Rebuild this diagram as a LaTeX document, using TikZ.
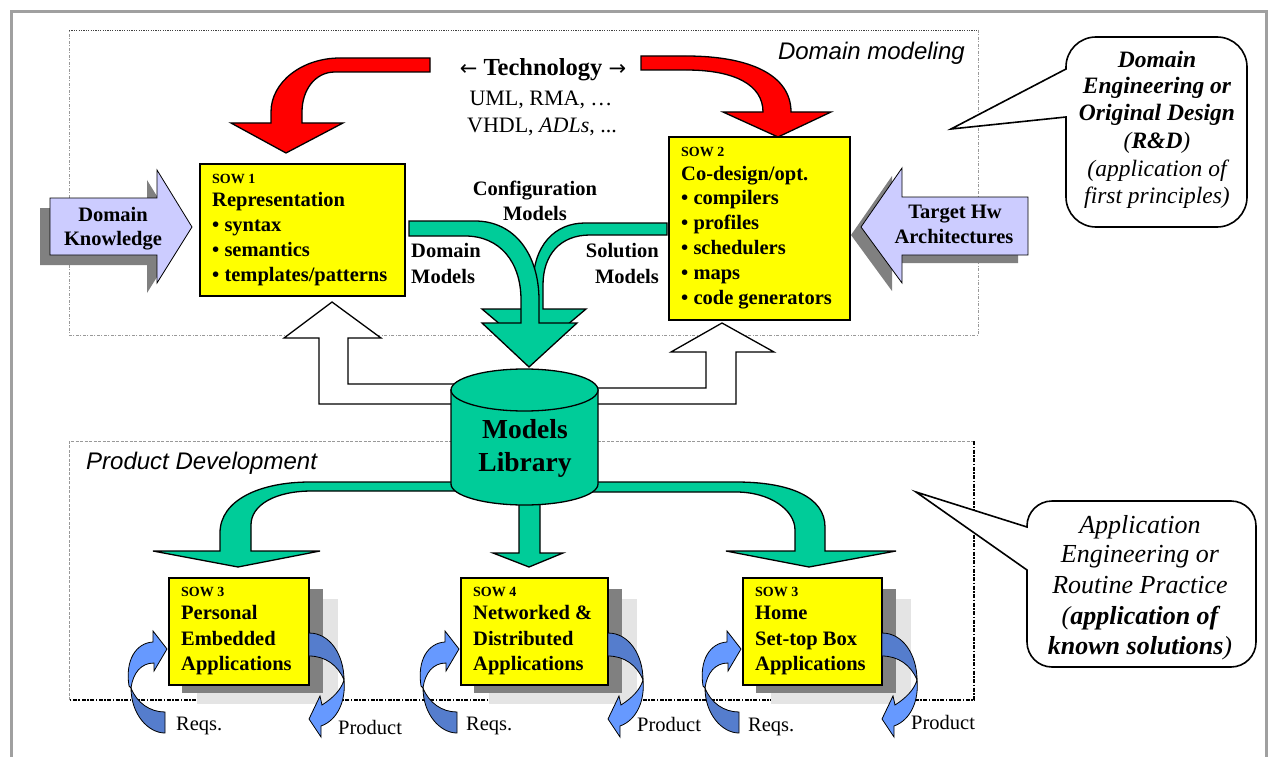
\documentclass[tikz,border=0pt]{standalone}
\usepackage{fontspec}
\setmainfont{Liberation Serif}
\newfontfamily\arialfont{Liberation Sans}
\newfontfamily\arrowfont{DejaVu Sans}
\definecolor{redA}{RGB}{255,0,0}
\definecolor{greenA}{RGB}{0,204,153}
\definecolor{yellowA}{RGB}{255,255,0}
\definecolor{lavA}{RGB}{204,204,255}
\definecolor{blueL}{RGB}{102,153,255}
\definecolor{blueD}{RGB}{85,125,205}
\definecolor{shD}{RGB}{128,128,128}
\definecolor{shL}{RGB}{228,228,228}
\definecolor{frameG}{RGB}{160,160,160}
\newcommand\reqsarrow[1]{%
  \begin{scope}[shift={(#1,0)}]
    \draw[blueline, fill=blueD] (165,712) .. controls (150,712) and (137,703) .. (131,688) .. controls (131,714) and (148,733) .. (165,733) -- cycle;
    \draw[blueline, fill=blueL] (129,686) .. controls (125,660) and (136,643) .. (153,642) -- (153,631) -- (167,649) -- (154,671) -- (154,663) .. controls (141,663) and (133,673) .. (131,688) -- cycle;
  \end{scope}}
\newcommand\prodarrow[1]{%
  \begin{scope}[shift={(#1,0)}]
    \draw[blueline, fill=blueD] (309,633) .. controls (330,633) and (344,655) .. (344,680) .. controls (338,665) and (325,656) .. (309,656) -- cycle;
    \draw[blueline, fill=blueL] (344,680) .. controls (346,700) and (338,720) .. (321,726) -- (321,737) -- (309,719) -- (320,696) -- (322,705) .. controls (333,698) and (341,690) .. (344,680) -- cycle;
  \end{scope}}
\newcommand\appbox[7]{%
  \fill[shL] ({#2+29},599) rectangle ({#3+30},704);
  \fill[shD] ({#2+14},589) rectangle ({#3+15},693);
  \node[ybox, minimum width={#3-#2}, minimum height=107] (#1) at (#2,577) {};
  \node[st, anchor=base west] (#1-s) at ({#2+13},596) {#4};
  \node[bt, anchor=base west] (#1-a) at ({#2+13},619) {#5};
  \node[bt, anchor=base west] (#1-b) at ({#2+13},645) {#6};
  \node[bt, anchor=base west] (#1-c) at ({#2+13},670) {#7};
  \reqsarrow{#2-168}
  \prodarrow{#3-308}}
\begin{document}
\begin{tikzpicture}[x=1pt,y=-1pt,
  outl/.style={draw=black, line width=1.3pt, line join=miter},
  blueline/.style={draw=black, line width=0.8pt},
  ybox/.style={draw=black, fill=yellowA, line width=1.6pt, inner sep=0pt, anchor=north west},
  bt/.style={font=\fontsize{20.5}{24}\selectfont\bfseries, inner sep=0pt},
  st/.style={font=\fontsize{14}{14}\selectfont\bfseries, inner sep=0pt},
  rt/.style={font=\fontsize{20.5}{24}\selectfont, inner sep=0pt},
  ct/.style={font=\fontsize{23.5}{27}\selectfont\itshape, inner sep=0pt, anchor=base},
  cb/.style={font=\fontsize{26}{30}\selectfont\itshape, inner sep=0pt, anchor=base},
  sans/.style={font=\fontsize{24}{28}\selectfont\arialfont\itshape, inner sep=0pt}]
\useasboundingbox (0,0) rectangle (1272,757);
% outer frame
\draw[frameG, line width=3pt] (11,775) -- (11,12) -- (1266,12) -- (1266,775);
% domain modeling box
\draw[black!75, line width=0.8pt, dash pattern=on 1.2pt off 1.2pt] (69,30) -- (978,30);
\draw[gray!80, line width=0.6pt, dash pattern=on 3pt off 1.5pt on 1pt off 1.5pt] (978,30) -- (978,335) -- (69,335) -- (69,30);
\node[sans, anchor=base east] (dmlab) at (965,60) {Domain modeling};
% product development box
\draw[gray!80, line width=0.6pt, dash pattern=on 3pt off 1.5pt] (69,700) -- (69,441) -- (974,441);
\draw[black, line width=1.3pt, dash pattern=on 4pt off 1.5pt on 1.5pt off 1.5pt] (974,441) -- (974,700) -- (69,700);
\node[sans, anchor=base west] (pdlab) at (86,469) {Product Development};
% red technology arrows
\draw[outl, fill=redA] (430,58) -- (340,58) .. controls (302,58) and (271,82) .. (271,112) -- (271,123) -- (231,123) -- (286,153) -- (343,123) -- (302,123) -- (302,112) .. controls (302,90) and (315,72) .. (335,72) -- (430,72) -- cycle;
\draw[outl, fill=redA] (641,56) -- (686,56) .. controls (750,56) and (791,75) .. (791,112) -- (831,112) -- (778,137) -- (723,112) -- (763,112) .. controls (763,85) and (735,70) .. (686,70) -- (641,70) -- cycle;
\node[inner sep=0pt, anchor=base, font=\fontsize{24.5}{28}\selectfont] (tech) at (543,76) {{\arrowfont\fontsize{21}{24}\selectfont ←} \textbf{Technology} {\arrowfont\fontsize{21}{24}\selectfont →}};
\node[inner sep=0pt, anchor=base, font=\fontsize{22}{26}\selectfont] (uml) at (541,106) {UML, RMA, …};
\node[inner sep=0pt, anchor=base, font=\fontsize{22}{26}\selectfont] (vhdl) at (542,133) {VHDL, \textit{ADLs}, ...};
% domain knowledge arrow
\begin{scope}[shift={(-10,10)}]
  \fill[shD] (50,198) -- (157,198) -- (157,170) -- (192,227) -- (157,283) -- (157,255) -- (50,255) -- cycle;
\end{scope}
\draw[blueline, fill=lavA] (50,198) -- (157,198) -- (157,170) -- (192,227) -- (157,283) -- (157,255) -- (50,255) -- cycle;
\node[bt, anchor=base] (dk1) at (113,221) {Domain};
\node[bt, anchor=base] (dk2) at (113,245) {Knowledge};
% target hw arrow
\begin{scope}[shift={(-10,8)}]
  \fill[shD] (1028,197) -- (902,197) -- (902,168) -- (861,227) -- (902,283) -- (902,255) -- (1028,255) -- cycle;
\end{scope}
\draw[blueline, fill=lavA] (1028,197) -- (902,197) -- (902,168) -- (861,227) -- (902,283) -- (902,255) -- (1028,255) -- cycle;
\node[bt, anchor=base] (th1) at (955,218) {Target Hw};
\node[bt, anchor=base] (th2) at (954,243) {Architectures};
% SOW 1 and SOW 2
\node[ybox, minimum width=205, minimum height=132] (sow1) at (199,163) {};
\node[st, anchor=base west] (sow1s) at (212,183) {SOW 1};
\foreach \t [count=\i from 0] in {Representation, • syntax, • semantics, • templates/patterns}
  \node[bt, anchor=base west] (sow1-\i) at (212,{206+25.3*\i}) {\t};
\node[ybox, minimum width=181, minimum height=183] (sow2) at (668,136) {};
\node[st, anchor=base west] (sow2s) at (681,157) {SOW 2};
\foreach \t [count=\i from 0] in {Co-design/opt., • compilers, • profiles, • schedulers, • maps, • code generators}
  \node[bt, anchor=base west] (sow2-\i) at (681,{180+24.8*\i}) {\t};
% green configuration arrows
\draw[outl, fill=greenA] (667,223) -- (585,223) .. controls (555,223) and (533,245) .. (533,285) -- (533,309) -- (482,309) -- (534,353) -- (586,309) -- (543,309) -- (543,285) .. controls (543,255) and (560,235) .. (590,235) -- (667,235) -- cycle;
\draw[outl, fill=greenA] (409,221) -- (475,221) .. controls (515,221) and (539,255) .. (539,300) -- (539,323) -- (577,323) -- (529,367) -- (482,323) -- (521,323) -- (521,300) .. controls (521,262) and (500,236) .. (465,236) -- (409,236) -- cycle;
\node[bt, anchor=base] (cfg1) at (535,196) {Configuration};
\node[bt, anchor=base] (cfg2) at (535,220) {Models};
\node[bt, anchor=base west] (dm1) at (411,257) {Domain};
\node[bt, anchor=base west] (dm2) at (411,283) {Models};
\node[bt, anchor=base east] (sm1) at (659,257) {Solution};
\node[bt, anchor=base east] (sm2) at (659,283) {Models};
% white feedback arrows
\draw[outl, fill=white] (470,384) -- (348,384) -- (348,338) -- (381,338) -- (332,302) -- (284,338) -- (319,338) -- (319,404) -- (470,404) -- cycle;
\draw[outl, fill=white] (580,388) -- (706,388) -- (706,352) -- (671,352) -- (722,323) -- (774,352) -- (736,352) -- (736,404) -- (580,404) -- cycle;
% green distribution arrows
\draw[outl, fill=greenA] (460,482) -- (310,482) .. controls (260,482) and (220,500) .. (220,533) -- (220,551) -- (153,551) -- (238,567) -- (320,551) -- (251,551) -- (251,525) .. controls (251,505) and (275,491) .. (312,491) -- (460,491) -- cycle;
\draw[outl, fill=greenA] (519,495) -- (519,553) -- (493,553) -- (529,567) -- (563,553) -- (540,553) -- (540,495) -- cycle;
\draw[outl, fill=greenA] (590,482) -- (736,482) .. controls (790,482) and (825,497) .. (825,527) -- (825,551) -- (896,551) -- (809,567) -- (726,551) -- (795,551) -- (795,530) .. controls (795,510) and (770,492) .. (736,492) -- (590,492) -- cycle;
% models library cylinder
\draw[outl, fill=greenA] (451,390) -- (451,484) .. controls (451,495.6) and (483.9,505) .. (524.5,505) .. controls (565.1,505) and (598,495.6) .. (598,484) -- (598,390) -- cycle;
\draw[outl, fill=greenA] (524.5,390) ellipse [x radius=73.5, y radius=21];
\node[inner sep=0pt, anchor=base, font=\fontsize{27.5}{31}\selectfont\bfseries] (ml1) at (525,438) {Models};
\node[inner sep=0pt, anchor=base, font=\fontsize{27.5}{31}\selectfont\bfseries] (ml2) at (525,471) {Library};
% application boxes
\appbox{app1}{168}{308}{SOW 3}{Personal}{Embedded}{Applications}
\appbox{app2}{460}{607}{SOW 4}{Networked \&}{Distributed}{Applications}
\appbox{app3}{742}{881}{SOW 3}{Home}{Set-top Box}{Applications}
\node[rt, anchor=base west] (rq1) at (176,730) {Reqs.};
\node[rt, anchor=base west] (pr1) at (338,734) {Product};
\node[rt, anchor=base west] (rq2) at (466,730) {Reqs.};
\node[rt, anchor=base west] (pr2) at (637,731) {Product};
\node[rt, anchor=base west] (rq3) at (748,731) {Reqs.};
\node[rt, anchor=base west] (pr3) at (911,729) {Product};
% callouts
\draw[draw=black, line width=1.6pt, fill=white, line join=miter] (1066,117) -- (951,129) -- (1066,69) -- (1066,67) .. controls (1066,50.4) and (1079.4,37) .. (1096,37) -- (1217,37) .. controls (1233.6,37) and (1247,50.4) .. (1247,67) -- (1247,197) .. controls (1247,213.6) and (1233.6,227) .. (1217,227) -- (1096,227) .. controls (1079.4,227) and (1066,213.6) .. (1066,197) -- cycle;
\node[ct] (c1a) at (1157,68) {\bfseries Domain};
\node[ct] (c1b) at (1157,94) {\bfseries Engineering or};
\node[ct] (c1c) at (1157,121) {\bfseries Original Design};
\node[ct] (c1d) at (1157,149) {(\textbf{R\&D})};
\node[ct] (c1e) at (1157,177) {(application of};
\node[ct] (c1f) at (1157,203) {first principles)};
\draw[draw=black, line width=1.6pt, fill=white, line join=miter] (1027,570) -- (916,492) -- (1027,527) -- (1027,526) .. controls (1027,512.2) and (1038.2,501) .. (1052,501) -- (1231,501) .. controls (1244.8,501) and (1256,512.2) .. (1256,526) -- (1256,642) .. controls (1256,655.8) and (1244.8,667) .. (1231,667) -- (1052,667) .. controls (1038.2,667) and (1027,655.8) .. (1027,642) -- cycle;
\node[cb] (c2a) at (1140,533) {Application};
\node[cb] (c2b) at (1140,562) {Engineering or};
\node[cb] (c2c) at (1140,593) {Routine Practice};
\node[cb] (c2d) at (1140,624) {(\textbf{application of}};
\node[cb] (c2e) at (1140,654) {\textbf{known solutions})};
\end{tikzpicture}
\end{document}
